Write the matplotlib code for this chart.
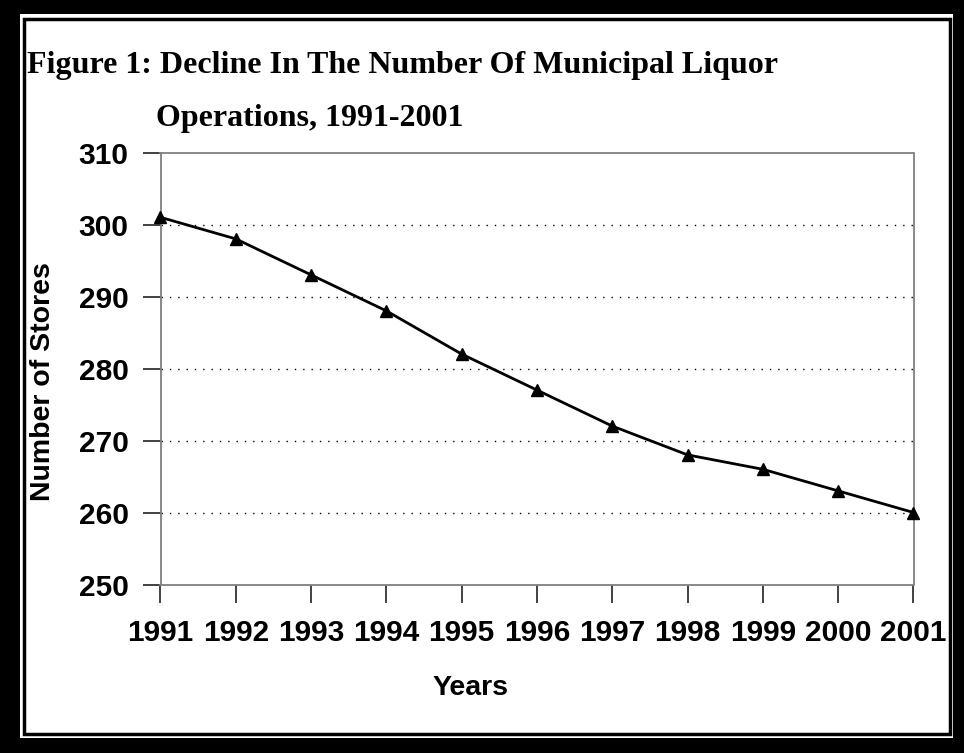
import matplotlib
matplotlib.use("Agg")
import matplotlib.pyplot as plt
from matplotlib.patches import Rectangle

years = [1991, 1992, 1993, 1994, 1995, 1996, 1997, 1998, 1999, 2000, 2001]
stores = [301, 298, 293, 288, 282, 277, 272, 268, 266, 263, 260]
yticks = [250, 260, 270, 280, 290, 300, 310]

W, H = 964, 753
fig = plt.figure(figsize=(W / 100, H / 100), dpi=100)

def fx(px):
    return px / W

def fy(py):
    return 1 - py / H

# borders
fig.patches.append(Rectangle((0, 0), 1, 1, transform=fig.transFigure,
                             facecolor="black", edgecolor="none", zorder=0))
fig.patches.append(Rectangle((fx(20), fy(738)), fx(953) - fx(20), fy(14) - fy(738),
                             transform=fig.transFigure, facecolor="white",
                             edgecolor="none", zorder=1))
fig.patches.append(Rectangle((fx(23.5), fy(734)), fx(949.5) - fx(23.5), fy(18.5) - fy(734),
                             transform=fig.transFigure, facecolor="white",
                             edgecolor="black", linewidth=2.5, zorder=2))

ax = fig.add_axes([fx(160.5), fy(584.5), fx(913.5) - fx(160.5), fy(152.5) - fy(584.5)])
ax.set_zorder(3)
ax.set_facecolor("none")
ax.plot(years, stores, color="black", linewidth=2, marker="^", markersize=9,
        clip_on=False, zorder=5)
ax.set_xlim(years[0], years[-1])
ax.set_ylim(yticks[0], yticks[-1])
ax.set_yticks(yticks)
ax.set_xticks(years)
for y in yticks[1:-1]:
    ax.axhline(y, color="black", linewidth=1, linestyle=(0, (1, 5)), zorder=1)

for s in ax.spines.values():
    s.set_color("#808080")
    s.set_linewidth(1.3)

ax.tick_params(axis="both", direction="out", length=13, width=1.3, color="#333333",
               labelsize=21.5)
ax.tick_params(axis="y", pad=10)
ax.tick_params(axis="x", pad=12)
for lab in ax.get_xticklabels() + ax.get_yticklabels():
    lab.set_fontfamily("Liberation Sans")
    lab.set_fontweight("bold")

fig.text(fx(43), fy(382), "Number of Stores", fontfamily="Liberation Sans",
         fontweight="bold", fontsize=20.5, rotation=90, ha="center", va="center",
         zorder=4)
fig.text(fx(470), fy(688), "Years", fontfamily="Liberation Sans",
         fontweight="bold", fontsize=20.5, ha="center", va="center", zorder=4)

fig.text(fx(27), fy(73), "Figure 1: Decline In The Number Of Municipal Liquor",
         fontfamily="Liberation Serif", fontweight="bold", fontsize=23,
         ha="left", va="baseline", zorder=4)
fig.text(fx(156), fy(126), "Operations, 1991-2001",
         fontfamily="Liberation Serif", fontweight="bold", fontsize=23,
         ha="left", va="baseline", zorder=4)

fig.savefig("out.png", dpi=100)
